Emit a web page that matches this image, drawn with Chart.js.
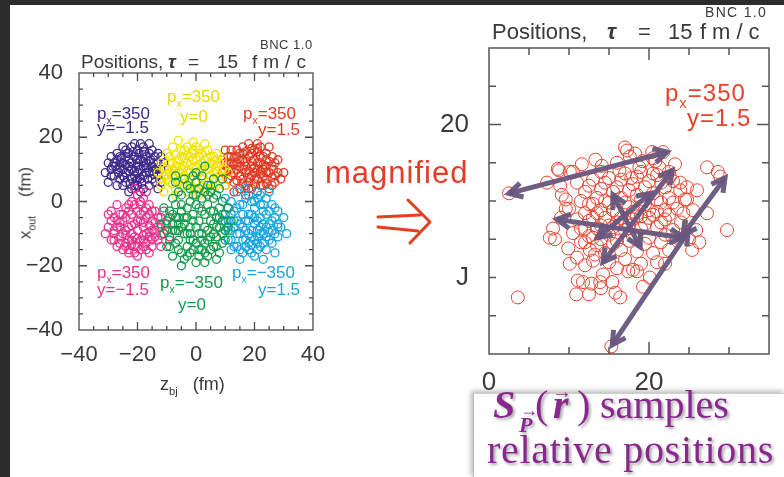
<!DOCTYPE html>
<html>
<head>
<meta charset="utf-8">
<script src="https://cdn.jsdelivr.net/npm/chart.js@4.4.1/dist/chart.umd.min.js"></script>
<style>
  html, body { margin: 0; padding: 0; }
  body { width: 784px; height: 477px; background: #2c2c2c; position: relative; overflow: hidden;
         font-family: "Liberation Sans", Arial, sans-serif; }
  #sheet { position: absolute; left: 10px; top: 5px; width: 774px; height: 472px; background: #fff; }
  canvas { position: absolute; }
  .t { position: absolute; white-space: nowrap; line-height: 1; }
  .sb { font-size: 0.62em; position: relative; top: 0.45em; }
  .lab { font-size: 17px; }
  .ttl { color: #3a3a3a; }
  .tau { font-weight: bold; font-style: italic; }
  #box { position: absolute; left: 473px; top: 393px; width: 311px; height: 84px; background: #fff;
         border-left: 1px solid #bdbdbd; border-top: 1px solid #d0d0d0;
         box-shadow: -2px -2px 5px rgba(0,0,0,0.28); }
  .tex { position: absolute; white-space: nowrap; line-height: 1; color: #8a278e;
         font-family: "Liberation Serif", "DejaVu Serif", serif; font-size: 40px;
         text-shadow: 2px 2px 3px rgba(0,0,0,0.35); }
  .bi { font-weight: bold; font-style: italic; }
</style>
</head>
<body>
<div id="sheet"></div>
<div id="box"></div>
<canvas id="overview" width="340" height="420" style="left:0;top:0;width:340px;height:420px"></canvas>
<canvas id="zoomed" width="364" height="400" style="left:420px;top:0;width:364px;height:400px"></canvas>

<!-- overview panel texts -->
<div class="t ttl" style="left:260px;top:38px;font-size:13px;letter-spacing:0.5px">BNC 1.0</div>
<div class="t ttl" style="left:81px;top:52px;font-size:19px">Positions,</div>
<div class="t ttl tau" style="left:168px;top:52px;font-size:19px">τ</div>
<div class="t ttl" style="left:188px;top:52px;font-size:19px">=</div>
<div class="t ttl" style="left:217px;top:52px;font-size:19px">15</div>
<div class="t ttl" style="left:252px;top:52px;font-size:19px;letter-spacing:6px">fm/c</div>

<div class="t ttl" style="left:25px;top:203px;font-size:17px;transform:translate(-50%,-50%) rotate(-90deg)">x<span class="sb">out</span>&nbsp;&nbsp;&nbsp;&nbsp;(fm)</div>
<div class="t ttl" style="left:160px;top:375px;font-size:18px">z<span class="sb">bj</span>&nbsp;&nbsp;&nbsp;(fm)</div>

<div class="t lab" style="left:97px;top:105px;color:#3d2a8c">p<span class="sb">x</span>=350</div>
<div class="t lab" style="left:97px;top:119px;color:#3d2a8c">y=−1.5</div>
<div class="t lab" style="left:167px;top:88px;color:#e8d800">p<span class="sb">x</span>=350</div>
<div class="t lab" style="left:180px;top:108px;color:#e8d800">y=0</div>
<div class="t lab" style="left:243px;top:105px;color:#e03a22">p<span class="sb">x</span>=350</div>
<div class="t lab" style="left:258px;top:121px;color:#e03a22">y=1.5</div>
<div class="t lab" style="left:97px;top:264px;color:#e6338d">p<span class="sb">x</span>=350</div>
<div class="t lab" style="left:97px;top:281px;color:#e6338d">y=−1.5</div>
<div class="t lab" style="left:160px;top:274px;color:#129a4a">p<span class="sb">x</span>=−350</div>
<div class="t lab" style="left:178px;top:296px;color:#129a4a">y=0</div>
<div class="t lab" style="left:232px;top:264px;color:#16a4de">p<span class="sb">x</span>=−350</div>
<div class="t lab" style="left:258px;top:281px;color:#16a4de">y=1.5</div>

<!-- link between panels -->
<div class="t" style="left:325px;top:157px;font-size:31px;letter-spacing:1px;color:#e63b26">magnified</div>
<svg style="position:absolute;left:370px;top:190px" width="70" height="65" viewBox="0 0 70 65">
  <g fill="none" stroke="#e3401f" stroke-width="3" stroke-linecap="round" stroke-linejoin="round">
    <path d="M8 27 L50 25"/>
    <path d="M8 37 L48 41"/>
    <path d="M38 10 L60 32 L40 53"/>
  </g>
</svg>

<!-- zoomed panel texts -->
<div class="t ttl" style="left:705px;top:5px;font-size:14px;letter-spacing:1.3px">BNC 1.0</div>
<div class="t ttl" style="left:492px;top:21px;font-size:22px">Positions,</div>
<div class="t ttl tau" style="left:607px;top:21px;font-size:22px">τ</div>
<div class="t ttl" style="left:638px;top:21px;font-size:22px">=</div>
<div class="t ttl" style="left:668px;top:21px;font-size:22px">15</div>
<div class="t ttl" style="left:700px;top:21px;font-size:22px;letter-spacing:6px">fm/c</div>
<div class="t" style="left:665px;top:81px;font-size:24px;color:#e8432c;letter-spacing:1px">p<span class="sb">x</span>=350</div>
<div class="t" style="left:687px;top:106px;font-size:24px;color:#e8432c;letter-spacing:1px">y=1.5</div>

<!-- caption -->
<div class="tex bi" style="left:493px;top:385px">S</div>
<div class="tex bi" style="left:519px;top:414px;font-size:22px">P</div>
<div class="tex" style="left:520px;top:401px;font-size:18px;font-weight:bold">→</div>
<div class="tex" style="left:535px;top:385px">(</div>
<div class="tex bi" style="left:553px;top:385px">r</div>
<div class="tex" style="left:552px;top:381px;font-size:20px;font-weight:bold">→</div>
<div class="tex" style="left:577px;top:385px">)</div>
<div class="tex" style="left:600px;top:385px">samples</div>
<div class="tex" style="left:487px;top:430px;letter-spacing:0.7px">relative positions</div>

<script>
// ---- overview panel: positions of six emission sources (z_bj, x_out) in fm ----
const navyPoints = [
  [-28,12],[-26,14],[-24,16],[-22,17],[-20,16],[-18,17],[-16,15],[-14,14],[-13,12],[-12,10],
  [-13,8],[-14,6],[-16,5],[-18,4],[-20,5],[-22,4],[-24,6],[-26,7],[-28,8],[-29,10],
  [-30,6],[-27,10],[-25,12],[-23,13],[-21,14],[-19,13],[-17,12],[-15,11],[-16,9],[-18,8],
  [-20,9],[-22,10],[-24,9],[-22,7],[-20,11],[-18,11],[-17,9],[-19,7],[-21,8],[-23,11],
  [-25,10],[-26,12],[-24,14],[-20,13],[-17,14],[-15,7],[-13,15],[-27,15],[-29,14],[-31,9],
  [-11,12],[-12,6],[-19,3],[-23,3],[-27,5],[-21,18],[-16,18],[-25,17],[-14,10],[-20,7],
  [-27.5,11],[-25.5,13.5],[-23.5,15],[-21.5,15.5],[-19.5,15],[-17.5,15.5],[-15.5,13],[-14.5,12],[-13.5,10],[-14.5,8.5],
  [-16.5,7],[-18.5,6],[-20.5,6.5],[-22.5,5.5],[-24.5,7.5],[-26.5,9],[-28.5,11],[-25,8],[-23,9.5],[-21,9.5],
  [-19,10],[-17,10.5],[-15,9.5],[-16,12.5],[-18,12.5],[-20,12],[-22,12],[-24,11.5],[-26,10.5],[-21,5],
  [-18,15.5],[-23,15],[-27,13],[-29,8],[-12,14],[-30,12],[-15,16],[-25,5],[-13,4],[-19,18]
];
const yellowPoints = [
  [-12,12],[-10,15],[-8,17],[-6,19],[-4,16],[-2,14],[0,17],[2,15],[4,16],[6,14],
  [8,12],[10,10],[9,7],[7,5],[5,3],[3,4],[1,2],[-1,4],[-3,3],[-5,5],
  [-7,4],[-9,6],[-11,8],[-12,5],[-10,10],[-8,12],[-6,13],[-4,11],[-2,9],[0,11],
  [2,12],[4,10],[6,9],[8,8],[6,7],[4,6],[2,7],[0,6],[-2,7],[-4,8],
  [-6,9],[-8,8],[-10,7],[-7,11],[-5,14],[-3,12],[-1,13],[1,14],[3,13],[5,12],
  [7,11],[9,13],[11,9],[-13,9],[-9,14],[-3,17],[3,18],[-11,3],[10,5],[1,9],
  [-5,7],[5,8],[-1,16],[7,15],[-7,2],
  [-11,10.5],[-9,12],[-7,14.5],[-5,16],[-3,14.5],[-1,15],[1,16],[3,15.5],[5,14],[7,13],
  [9,10],[8,6.5],[6,5],[4,4],[2,5],[0,4],[-2,5.5],[-4,4.5],[-6,6],[-8,5.5],
  [-10,8.5],[-9,9],[-7,9.5],[-5,10],[-3,9.5],[-1,10.5],[1,11.5],[3,11],[5,10.5],[7,9.5],
  [-4,13.5],[-2,11.5],[0,13],[2,10],[4,13.5],[-6,11],[-8,10],[6,11.5],[-12,7],[-1,18.5]
];
const redPoints = [
  [10,12],[12,14],[14,16],[16,17],[18,18],[20,16],[22,17],[24,15],[26,14],[27,12],
  [28,9],[27,6],[25,4],[23,5],[21,3],[19,4],[17,5],[15,4],[13,6],[11,7],
  [9,9],[10,5],[12,10],[14,12],[16,13],[18,14],[20,13],[22,12],[24,11],[25,9],
  [23,8],[21,7],[19,8],[17,9],[15,8],[13,9],[15,11],[17,11],[19,11],[21,10],
  [23,10],[20,9],[18,6],[16,7],[14,14],[12,16],[22,14],[24,7],[26,11],[28,13],
  [29,7],[30,9],[19,15],[17,2],[13,3],[21,18],[25,17],[11,10],[9,13],[26,5],
  [11,12],[13,13.5],[15,15],[17,15.5],[19,16.5],[21,15.5],[23,14],[25,12.5],[26.5,10],[26,7.5],
  [24,5.5],[22,5],[20,5.5],[18,4],[16,5.5],[14,6.5],[12,8],[10,9.5],[11,14],[13,11.5],
  [15,13],[17,12.5],[19,12.5],[21,12],[23,11.5],[24,9],[22,8.5],[20,7],[18,9.5],[16,10],
  [14,10],[12,12],[20,10.5],[22,9.5],[18,7.5],[16,15],[24,13],[27,8],[10,16],[21,16.5]
];
const pinkPoints = [
  [-30,-8],[-29,-12],[-27,-14],[-25,-15],[-23,-16],[-21,-14],[-19,-15],[-17,-13],[-15,-14],[-13,-12],
  [-11,-10],[-10,-7],[-12,-5],[-14,-3],[-16,-1],[-18,1],[-20,2],[-22,0],[-24,-2],[-26,-4],
  [-28,-5],[-30,-4],[-27,-8],[-25,-10],[-23,-12],[-21,-11],[-19,-12],[-17,-10],[-15,-9],[-13,-8],
  [-15,-6],[-17,-5],[-19,-6],[-21,-7],[-23,-8],[-25,-6],[-22,-4],[-20,-3],[-18,-3],[-16,-4],
  [-20,-9],[-18,-8],[-22,-10],[-24,-13],[-26,-11],[-28,-10],[-14,-11],[-12,-14],[-16,-16],[-20,-17],
  [-31,-10],[-17,3],[-21,4],[-9,-11],[-11,-3],[-27,-1],[-24,-5],[-19,-1],[-23,-15],[-18,-14],
  [-29,-6],[-28,-9],[-26,-13],[-24,-14],[-22,-13.5],[-20,-14],[-18,-12],[-16,-11],[-14,-9],[-12,-8],
  [-13,-5],[-15,-3],[-17,-2],[-19,0],[-21,-1],[-23,-3],[-25,-4],[-27,-6],[-26,-8],[-24,-9],
  [-22,-7.5],[-20,-6],[-18,-6.5],[-16,-7.5],[-14,-6.5],[-16,-9.5],[-18,-10.5],[-20,-11.5],[-22,-12],[-24,-10.5],
  [-26,-6.5],[-28,-12],[-21,-16],[-15,-12],[-12,-10.5],[-10,-9],[-23,-1],[-19,-4],[-17,-15],[-29,-3]
];
const greenPoints = [
  [-11,-2],[-10,-6],[-11,-10],[-10,-14],[-8,-17],[-6,-15],[-4,-18],[-2,-16],[0,-19],[2,-15],
  [4,-17],[6,-14],[8,-16],[10,-12],[11,-8],[10,-4],[9,0],[8,4],[6,7],[4,5],
  [2,8],[0,6],[-2,4],[-4,7],[-6,3],[-8,1],[-9,-3],[-7,-5],[-5,-8],[-3,-10],
  [-1,-12],[1,-10],[3,-8],[5,-6],[7,-8],[9,-10],[7,-11],[5,-11],[3,-13],[1,-6],
  [-1,-4],[-3,-2],[-5,-1],[-7,-9],[-9,-12],[-6,-12],[-2,-8],[0,-1],[2,-3],[4,-1],
  [6,-3],[8,-5],[6,1],[4,2],[2,1],[0,2],[-2,0],[-4,-5],[-6,-7],[-8,-7],
  [3,-19],[-5,-20],[12,-6],[-12,-7],[7,-18],[1,-15],[-3,-14],[5,3],[-1,8],[3,11],
  [-7,6],[9,7],
  [-9,-5],[-8,-9],[-9,-14],[-7,-13],[-5,-16],[-3,-17],[-1,-15],[1,-17],[3,-16],[5,-15],
  [7,-14],[9,-13],[10,-9],[9,-6],[8,-2],[7,2],[5,5],[3,3],[1,4],[-1,2],
  [-3,5],[-5,2],[-7,-1],[-8,-4],[-6,-5],[-4,-7],[-2,-10],[0,-8],[2,-10],[4,-9],
  [6,-7],[8,-8],[6,-10],[4,-12],[2,-12],[0,-13],[-2,-12],[-4,-10],[-6,-9],[-3,-5],
  [-1,-6],[1,-2],[3,-4],[5,-3],[7,-5],[-5,-3],[-10,-9],[11,-2],[0,9],[-7,8]
];
const cyanPoints = [
  [9,-4],[10,-9],[11,-12],[12,-15],[14,-14],[16,-16],[18,-15],[20,-17],[22,-14],[24,-15],
  [26,-13],[28,-11],[29,-8],[30,-5],[28,-3],[26,-1],[24,1],[22,-1],[20,0],[18,2],
  [16,-1],[14,-2],[12,0],[10,1],[12,-4],[14,-6],[16,-8],[18,-10],[20,-12],[22,-10],
  [24,-8],[26,-6],[24,-4],[22,-5],[20,-7],[18,-6],[16,-4],[14,-10],[16,-12],[18,-13],
  [20,-5],[22,-8],[24,-11],[26,-9],[28,-7],[20,-2],[18,-4],[14,3],[17,4],[21,3],
  [25,3],[31,-10],[27,-16],[23,-18],[15,-18],[13,-8],[11,-6],[19,-9],[21,-11],[23,-3],
  [10,-6],[11,-9],[12,-12],[13,-14],[15,-15],[17,-14],[19,-16],[21,-15],[23,-13],[25,-12],
  [27,-10],[28,-8],[27,-5],[25,-3],[23,-1],[21,1],[19,0],[17,1],[15,-1],[13,-3],
  [11,-2],[13,-6],[15,-7],[17,-9],[19,-11],[21,-9],[23,-7],[25,-7],[23,-10],[21,-6],
  [19,-4],[17,-6],[15,-10],[17,-12],[19,-13.5],[21,-13],[25,-9.5],[27,-2],[22,2],[12,-9]
];
const overviewXTicks = [-40, -20, 0, 20, 40];
const overviewXLabels = ['−40', '−20', '0', '20', '40'];
const overviewYTicks = [-40, -20, 0, 20, 40];
const overviewYLabels = ['−40', '−20', '0', '20', '40'];
const overviewMinorTicks = [-35, -30, -25, -20, -15, -10, -5, 0, 5, 10, 15, 20, 25, 30, 35];

// ---- zoomed panel: the p_x=350, y=1.5 source and sampled pair separations ----
const zoomPoints = [
  [2.5,15.5],[3.6,8.7],[15.3,5.5],[29.75,13.1],[28.9,16.6],[28.6,16.9],[27.25,17.2],[26,15.7],[24.75,15.1],[25.5,14.4],
  [27.25,14.2],[25.4,11.8],[21,11.0],[18.5,10.4],[19.25,9.4],[20.1,10.0],[16.4,8.7],[11.1,9.8],[11.75,9.7],[13.9,9.7],
  [15.4,9.7],[14.25,10.2],[17.4,10.4],[18,10.5],[9.9,11.9],[11,11.3],[12.6,11.8],[13.25,11.5],[10.1,10.9],[8.25,12.5],
  [8.0,13.2],[7.6,12.6],[25,12.5],
  [17,18.5],[18.25,18.1],[20.4,18.2],[21.75,18.2],[17.25,18.3],[20.5,17.8],[23.25,17.4],[16,17.5],[14.1,17.3],[8.75,17.0],
  [10.5,16.9],[8.6,17.1],[10.1,16.9],[7.25,16.2],[8.9,16.0],[9.1,15.4],[9.6,15.1],[17.6,17.9],[22.6,16.6],[23.9,16.2],
  [24.75,15.9],[24.5,15.1],[23.9,15.7],
  [11,16.2],[12,15.6],[13,16.4],[14,15.8],[15,16.5],[16,15.9],[17,16.8],[18,16.1],[19,16.9],[20,16.3],
  [21,16.7],[22,15.9],[12.5,14.8],[13.5,14.2],[14.5,15],[15.5,14.4],[16.5,15.2],[17.5,14.6],[18.5,15.4],[19.5,14.8],
  [20.5,15.5],[21.5,14.9],[22.5,15.2],[23.5,14.5],[10,14.5],[11,13.8],[12,13.2],[13,13.9],[14,13.4],[15,12.8],
  [16,13.6],[17,13.1],[18,13.8],[19,13.2],[20,13.9],[21,13.3],[22,13.8],[23,13.1],[24,13.6],[9,13.9],
  [10.5,12.9],[11.5,12.3],[12.5,12.7],[13.5,12.1],[14.5,11.6],[15.5,12.2],[16.5,11.8],[17.5,12.4],[18.5,11.7],[19.5,12.2],
  [20.5,11.6],[21.5,12.3],[22.5,11.8],[23.5,12.6],[12,10.8],[13,11.1],[15,11],[16,10.6],[17,11.2],[19,10.9],
  [14,9.3],[12.5,8.9],[15.8,9.0],[17.8,16.5],[19.2,17.6],[21.3,17.2],[16.3,17],[11.6,17.4],[13.3,17.7],[9.6,14.5],
  [23,16.3],[24.3,14.2],[22,10.9],[25.9,13.1],[26.3,12.3],[12.8,9.6],[10.9,8.9],
  [11.5,15],[12.5,16],[13.5,15.2],[14.5,16.2],[15.5,15.6],[16.5,16.4],[17.5,15.7],[18.5,16.6],[19.5,15.9],[20.5,16.8],
  [21.5,16.2],[22.5,16.9],[12,14.2],[13,14.8],[14,14.4],[15,14.9],[16,14.2],[17,14.9],[18,14.3],[19,15.1],
  [20,14.4],[21,15.1],[22,14.4],[23,14.9],[11.5,13.2],[12.5,13.7],[13.5,13.2],[14.5,13.9],[15.5,13.3],[16.5,13.9],
  [17.5,13.4],[18.5,14],[19.5,13.5],[20.5,14.1],[21.5,13.6],[22.5,14.1],[12,12.3],[14,12.5],[16,12.4],[18,12.7],
  [20,12.6],[22,12.8],[13,12.6],[15,13.4],[17,13.7],[19,14],[21,14.3],[14,16.9],[18.8,17.2],[20.8,17.6]
];
// pair separations drawn as double-headed arrows: [from, to]
const pairArrows = [
  [[2.5,15.5],[22.25,18.2]],
  [[8.5,13.8],[24.25,12.6]],
  [[15.4,5.6],[24.9,13.0]],
  [[24.25,12.8],[29.5,16.5]],
  [[14.25,11.0],[22.9,17.0]],
  [[15.5,15.4],[18.9,12.0]],
  [[13.6,12.6],[20.2,15.5]]
];
const zoomXTicks = [0, 20];
const zoomXLabels = ['0', '20'];
const zoomYTicks = [10, 20];
const zoomYLabels = ['J', '20'];
const zoomXMinor = [5, 10, 15, 20, 25, 30];
const zoomYMinor = [7.5, 10, 12.5, 15, 17.5, 20, 22.5];

// frame with inward ticks on all four sides
const framePlugin = {
  id: 'frame',
  afterDatasetsDraw(chart, args, o) {
    const { ctx, chartArea: a, scales: { x, y } } = chart;
    ctx.save();
    ctx.strokeStyle = o.color;
    ctx.lineWidth = o.width;
    ctx.strokeRect(a.left, a.top, a.right - a.left, a.bottom - a.top);
    ctx.beginPath();
    o.xTicks.forEach(v => {
      const p = x.getPixelForValue(v);
      const len = o.isMajorX(v) ? o.major : o.minor;
      ctx.moveTo(p, a.bottom); ctx.lineTo(p, a.bottom - len);
      ctx.moveTo(p, a.top); ctx.lineTo(p, a.top + len);
    });
    o.yTicks.forEach(v => {
      const p = y.getPixelForValue(v);
      const len = o.isMajorY(v) ? o.major : o.minor;
      ctx.moveTo(a.left, p); ctx.lineTo(a.left + len, p);
      ctx.moveTo(a.right, p); ctx.lineTo(a.right - len, p);
    });
    ctx.stroke();
    ctx.restore();
  }
};

const arrowPlugin = {
  id: 'pairArrows',
  afterDatasetsDraw(chart, args, o) {
    if (!o.list) return;
    const { ctx, scales: { x, y } } = chart;
    const head = (x0, y0, x1, y1) => {
      const ang = Math.atan2(y1 - y0, x1 - x0);
      ctx.beginPath();
      ctx.moveTo(x1 - o.head * Math.cos(ang - 0.5), y1 - o.head * Math.sin(ang - 0.5));
      ctx.lineTo(x1, y1);
      ctx.lineTo(x1 - o.head * Math.cos(ang + 0.5), y1 - o.head * Math.sin(ang + 0.5));
      ctx.stroke();
    };
    ctx.save();
    ctx.strokeStyle = o.color;
    ctx.lineWidth = o.width;
    ctx.lineJoin = 'miter';
    ctx.lineCap = 'butt';
    o.list.forEach(([p, q]) => {
      const x0 = x.getPixelForValue(p[0]), y0 = y.getPixelForValue(p[1]);
      const x1 = x.getPixelForValue(q[0]), y1 = y.getPixelForValue(q[1]);
      ctx.beginPath(); ctx.moveTo(x0, y0); ctx.lineTo(x1, y1); ctx.stroke();
      head(x0, y0, x1, y1);
      head(x1, y1, x0, y0);
    });
    ctx.restore();
  }
};

const toXY = arr => arr.map(([a, b]) => ({ x: a, y: b }));
const circles = (label, data, color, r, w, order) => ({
  label, data: toXY(data), borderColor: color, backgroundColor: 'rgba(0,0,0,0)',
  pointStyle: 'circle', pointRadius: r, pointBorderWidth: w, pointHoverRadius: r, order
});
const fixedTicks = (vals) => (s) => { s.ticks = vals.map(v => ({ value: v })); };
const labelFor = (vals, labels) => (v) => { const i = vals.indexOf(v); return i < 0 ? '' : labels[i]; };

new Chart(document.getElementById('overview'), {
  type: 'scatter',
  data: {
    datasets: [
      circles('px=-350 y=0', greenPoints, '#129a4a', 4, 1.3, 1),
      circles('px=350 y=0', yellowPoints, '#f3e200', 4, 1.3, 2),
      circles('px=-350 y=1.5', cyanPoints, '#16a4de', 4, 1.3, 3),
      circles('px=350 y=-1.5 (lower)', pinkPoints, '#e6338d', 4, 1.3, 4),
      circles('px=350 y=1.5', redPoints, '#e03a22', 4, 1.3, 5),
      circles('px=350 y=-1.5', navyPoints, '#3d2a8c', 4, 1.3, 6)
    ]
  },
  options: {
    responsive: false, animation: false, devicePixelRatio: 1,
    layout: { padding: { top: 73, right: 27, left: 0, bottom: 0 } },
    plugins: {
      legend: { display: false }, tooltip: { enabled: false },
      frame: { color: '#4a4a4a', width: 1.3, major: 8, minor: 4,
               xTicks: overviewMinorTicks, yTicks: overviewMinorTicks,
               isMajorX: v => v % 20 === 0, isMajorY: v => v % 20 === 0 }
    },
    scales: {
      x: {
        type: 'linear', min: -40, max: 40,
        afterBuildTicks: fixedTicks(overviewXTicks),
        afterFit: s => { s.height = 90; },
        grid: { display: false, drawTicks: false }, border: { display: false },
        ticks: { callback: labelFor(overviewXTicks, overviewXLabels), color: '#3a3a3a', padding: 12,
                 maxRotation: 0, autoSkip: false, font: { family: 'Liberation Sans', size: 22 } }
      },
      y: {
        type: 'linear', min: -40, max: 40,
        afterBuildTicks: fixedTicks(overviewYTicks),
        afterFit: s => { s.width = 79; },
        grid: { display: false, drawTicks: false }, border: { display: false },
        ticks: { callback: labelFor(overviewYTicks, overviewYLabels), color: '#3a3a3a', padding: 16,
                 autoSkip: false, font: { family: 'Liberation Sans', size: 22 } }
      }
    }
  },
  plugins: [framePlugin]
});

new Chart(document.getElementById('zoomed'), {
  type: 'scatter',
  data: { datasets: [ circles('px=350 y=1.5', zoomPoints, '#e8432c', 6.5, 1, 1) ] },
  options: {
    responsive: false, animation: false, devicePixelRatio: 1,
    layout: { padding: { top: 48, right: 15, left: 0, bottom: 0 } },
    plugins: {
      legend: { display: false }, tooltip: { enabled: false },
      frame: { color: '#555', width: 1.5, major: 12, minor: 7,
               xTicks: zoomXMinor, yTicks: zoomYMinor,
               isMajorX: v => v === 20, isMajorY: v => v === 20 },
      pairArrows: { list: pairArrows, color: 'rgba(104,86,126,0.95)', width: 5, head: 15 }
    },
    scales: {
      x: {
        type: 'linear', min: 0, max: 35,
        afterBuildTicks: fixedTicks(zoomXTicks),
        afterFit: s => { s.height = 46; },
        grid: { display: false, drawTicks: false }, border: { display: false },
        ticks: { callback: labelFor(zoomXTicks, zoomXLabels), color: '#3a3a3a', padding: 13,
                 maxRotation: 0, autoSkip: false, font: { family: 'Liberation Sans', size: 26 } }
      },
      y: {
        type: 'linear', min: 5, max: 25,
        afterBuildTicks: fixedTicks(zoomYTicks),
        afterFit: s => { s.width = 69; },
        grid: { display: false, drawTicks: false }, border: { display: false },
        ticks: { callback: labelFor(zoomYTicks, zoomYLabels), color: '#3a3a3a', padding: 20,
                 autoSkip: false, font: { family: 'Liberation Sans', size: 26 } }
      }
    }
  },
  plugins: [framePlugin, arrowPlugin]
});
</script>
</body>
</html>
